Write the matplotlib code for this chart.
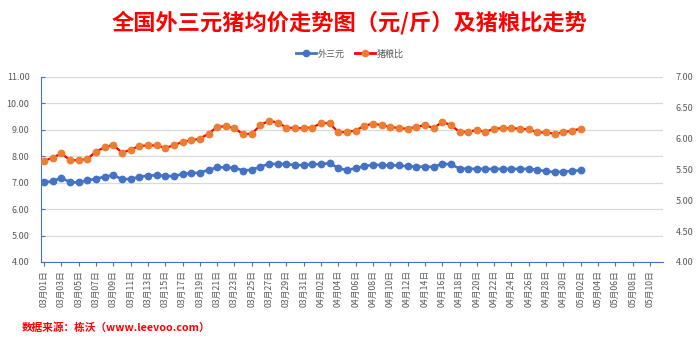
import matplotlib
matplotlib.use("Agg")
import matplotlib.pyplot as plt
from matplotlib.lines import Line2D

plt.rcParams['font.family'] = ['Noto Sans CJK SC', 'DejaVu Sans']

# 日期标签：03月01日 ~ 05月10日
months = [3] * 31 + [4] * 30 + [5] * 10
days = list(range(1, 32)) + list(range(1, 31)) + list(range(1, 11))
date_labels = [f"{m:02d}月{d:02d}日" for m, d in zip(months, days)]

# 外三元均价（元/斤），03月01日 ~ 05月02日
price = [7.02, 7.05, 7.19, 7.01, 7.01, 7.09, 7.15, 7.22, 7.29, 7.13,
         7.14, 7.22, 7.27, 7.28, 7.26, 7.24, 7.33, 7.36, 7.38, 7.48,
         7.58, 7.58, 7.56, 7.46, 7.49, 7.60, 7.72, 7.70, 7.71, 7.66,
         7.67,
         7.70, 7.70, 7.74, 7.55, 7.47, 7.55, 7.62, 7.68, 7.66, 7.66,
         7.65, 7.62, 7.61, 7.60, 7.60, 7.71, 7.70, 7.53, 7.53, 7.52,
         7.52, 7.52, 7.52, 7.52, 7.52, 7.52, 7.49, 7.43, 7.40, 7.42,
         7.44, 7.47]

# 猪粮比
ratio = [5.64, 5.69, 5.76, 5.65, 5.65, 5.67, 5.79, 5.86, 5.90, 5.77,
         5.82, 5.88, 5.89, 5.89, 5.85, 5.89, 5.95, 5.97, 6.00, 6.08,
         6.19, 6.20, 6.17, 6.07, 6.08, 6.22, 6.29, 6.26, 6.18, 6.17,
         6.17,
         6.18, 6.25, 6.25, 6.10, 6.11, 6.13, 6.21, 6.24, 6.22, 6.19,
         6.17, 6.16, 6.19, 6.22, 6.17, 6.27, 6.22, 6.11, 6.11, 6.14,
         6.11, 6.16, 6.17, 6.17, 6.16, 6.15, 6.10, 6.10, 6.08, 6.10,
         6.13, 6.16]

left_ticks = [4, 5, 6, 7, 8, 9, 10, 11]
right_ticks = [4.0, 4.5, 5.0, 5.5, 6.0, 6.5, 7.0]

BLUE = "#4472C4"
RED = "#FF0000"
ORANGE = "#ED7D31"
GRAY = "#595959"


def show_graph():
    fig = plt.figure(figsize=(7, 3.42), dpi=100)
    ax = fig.add_axes([0.058, 0.234, 0.889, 0.541])
    ax2 = ax.twinx()

    x = list(range(len(price)))
    ax.plot(x, price, color=BLUE, lw=1.9, marker="o", ms=4.6,
            mfc=BLUE, mec=BLUE, zorder=3)
    ax2.plot(x, ratio, color=RED, lw=1.6, marker="o", ms=4.6,
             mfc=ORANGE, mec=ORANGE, zorder=3)

    ax.set_xlim(-0.4, 71.5)
    ax.set_ylim(4, 11)
    ax2.set_ylim(4, 7)

    ax.set_yticks(left_ticks)
    ax.set_yticklabels([f"{v:.2f}" for v in left_ticks])
    ax2.set_yticks(right_ticks)
    ax2.set_yticklabels([f"{v:.2f}" for v in right_ticks])

    xt = list(range(0, len(date_labels), 2))
    ax.set_xticks(xt)
    ax.set_xticklabels([date_labels[i] for i in xt], rotation=90)

    ax.grid(axis="y", color="#D9D9D9", lw=0.9)
    ax.set_axisbelow(True)

    for s in ["top", "right"]:
        ax.spines[s].set_visible(False)
    for s in ["top", "right", "left", "bottom"]:
        ax2.spines[s].set_visible(False)
    ax.spines["left"].set_color(BLUE)
    ax.spines["bottom"].set_color(BLUE)

    ax.tick_params(axis="y", direction="in", length=3, color=BLUE,
                   labelsize=6.5, labelcolor=GRAY, pad=8)
    ax.tick_params(axis="x", direction="out", length=3, color=BLUE,
                   labelsize=6.3, labelcolor=GRAY, pad=3)
    ax2.tick_params(axis="y", length=0, labelsize=6.5, labelcolor=GRAY, pad=9)

    fig.text(0.5, 0.935, "全国外三元猪均价走势图（元/斤）及猪粮比走势",
             ha="center", va="center", color=RED, fontsize=16,
             fontweight="bold")

    handles = [
        Line2D([], [], color=BLUE, lw=2, marker="o", ms=4.5, mfc=BLUE, mec=BLUE),
        Line2D([], [], color=RED, lw=2, marker="o", ms=4.5, mfc=ORANGE, mec=ORANGE),
    ]
    fig.legend(handles, ["外三元", "猪粮比"], loc="center",
               bbox_to_anchor=(0.5, 0.842), ncol=2, frameon=False,
               fontsize=6.5, labelcolor=GRAY, handlelength=2.2,
               handletextpad=0.2, columnspacing=1.2)

    fig.text(0.031, 0.043, "数据来源：栋沃（www.leevoo.com）",
             ha="left", va="center", color=RED, fontsize=7.7,
             fontweight="bold")

    fig.savefig("out.png", dpi=100)


def main():
    show_graph()


if __name__ == "__main__":
    main()
